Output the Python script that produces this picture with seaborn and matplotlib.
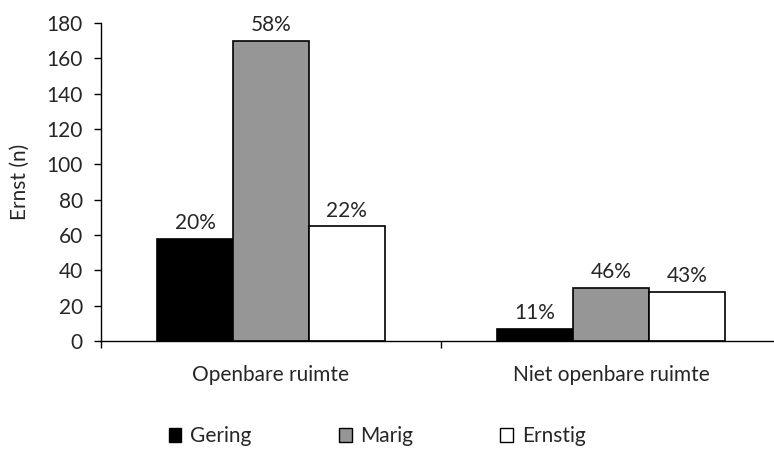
import matplotlib
matplotlib.use("Agg")
import matplotlib.pyplot as plt
import seaborn as sns
import pandas as pd
from matplotlib.patches import Patch

categories = ["Openbare ruimte", "Niet openbare ruimte"]
series = ["Gering", "Marig", "Ernstig"]
gering = [58, 7]
marig = [170, 30]
ernstig = [65, 28]
pct_gering = ["20%", "11%"]
pct_marig = ["58%", "46%"]
pct_ernstig = ["22%", "43%"]
yticks = [0, 20, 40, 60, 80, 100, 120, 140, 160, 180]

colors = {"Gering": "#000000", "Marig": "#969696", "Ernstig": "#ffffff"}

rows = []
for i, c in enumerate(categories):
    for s, vals, pcts in zip(series, [gering, marig, ernstig], [pct_gering, pct_marig, pct_ernstig]):
        rows.append({"cat": c, "serie": s, "n": vals[i], "pct": pcts[i]})
df = pd.DataFrame(rows)

sns.set_style("white")
plt.rcParams["font.family"] = ["Lato", "DejaVu Sans"]
FS = 15

fig = plt.figure(figsize=(7.74, 4.51), dpi=100)
ax = fig.add_axes([101/774, 110/451, 680/774, 318/451])

sns.barplot(data=df, x="cat", y="n", hue="serie", order=categories, hue_order=series,
            palette=colors, width=0.67, edgecolor="black", linewidth=1.2, ax=ax,
            legend=False, saturation=1)

for cont, s in zip(ax.containers, series):
    labs = df[df.serie == s].set_index("cat").loc[categories, "pct"].tolist()
    ax.bar_label(cont, labels=labs, padding=4, fontsize=FS)

ax.set_ylim(0, 180)
ax.set_xlim(-0.5, 1.5)
ax.set_yticks(yticks)
ax.set_yticklabels([str(v) for v in yticks], fontsize=FS)
ax.set_xticks([-0.5, 0.5, 1.5])
ax.set_xticklabels(["", "", ""])
ax.set_xticks([0, 1], minor=True)
ax.set_xticklabels(categories, minor=True, fontsize=FS)
ax.tick_params(axis="x", which="major", direction="out", length=5, width=1, color="black", bottom=True)
ax.tick_params(axis="x", which="minor", length=0, pad=17)
ax.tick_params(axis="y", direction="out", length=5, width=1, color="black", left=True, pad=8)
ax.set_xlabel("")
ax.set_ylabel("Ernst (n)", fontsize=FS, labelpad=12)

for side in ["top", "right"]:
    ax.spines[side].set_visible(False)
for side in ["left", "bottom"]:
    ax.spines[side].set_color("black")
    ax.spines[side].set_linewidth(1)

handles = [Patch(facecolor=colors[s], edgecolor="black", linewidth=1, label=s) for s in series]
fig.legend(handles=handles, loc="center", bbox_to_anchor=(0.487, 0.033), ncol=3, frameon=False,
           fontsize=FS, handlelength=0.62, handleheight=0.62, handletextpad=0.4, columnspacing=4.2)

fig.savefig("out.png", dpi=100)
